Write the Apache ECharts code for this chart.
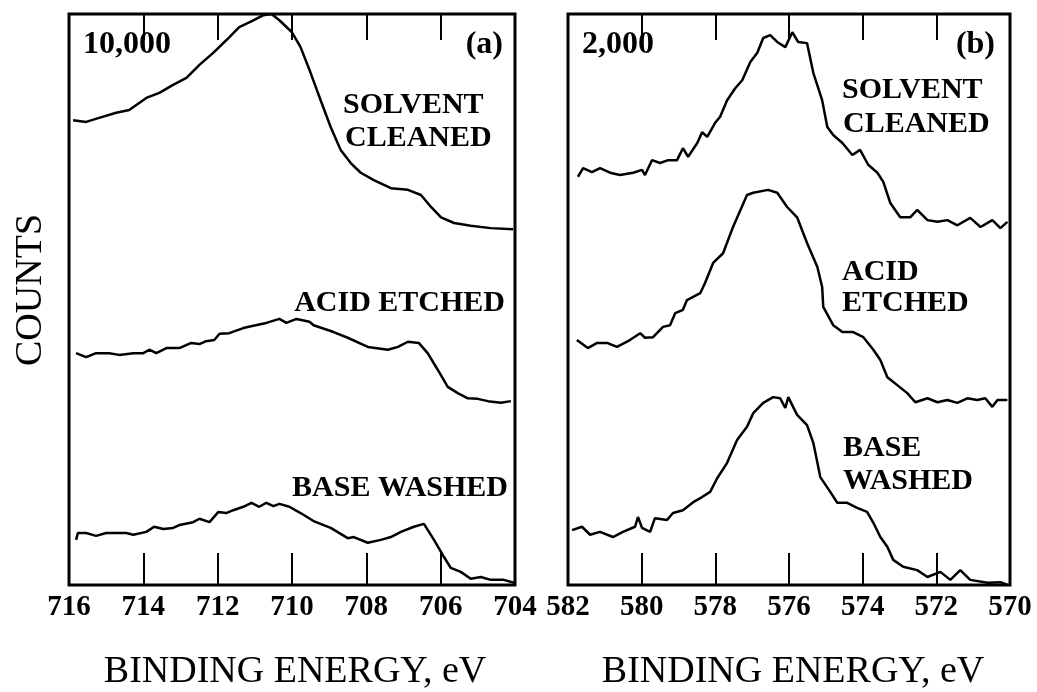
<!DOCTYPE html>
<html>
<head>
<meta charset="utf-8">
<script src="https://cdn.jsdelivr.net/npm/echarts@6/dist/echarts.min.js"></script>
<style>
  html, body { margin: 0; padding: 0; background: #fff; }
  #chart { width: 1037px; height: 692px; }
</style>
</head>
<body>
<div id="chart"></div>
<script>
// --- data: [binding energy eV, counts in % of panel full scale] ---
const feSolvent = [[715.89,81.4],[715.54,81.1],[715.19,81.8],[714.73,82.7],[714.38,83.2],[713.92,85.3],[713.57,86.2],[713.2,87.6],[712.84,88.8],[712.49,91.1],[712.12,93.2],[711.77,95.4],[711.42,97.7],[711.04,98.9],[710.77,99.8],[710.55,100],[710.34,98.9],[710.0,96.8],[709.77,94.2],[709.5,89.7],[709.23,84.9],[708.96,80.2],[708.69,76.2],[708.42,73.9],[708.15,72.2],[707.8,70.9],[707.34,69.5],[706.88,69.2],[706.53,68.3],[706.26,66.2],[705.99,64.4],[705.64,63.4],[705.19,62.9],[704.65,62.5],[704.05,62.3]];
const feAcid = [[715.81,40.6],[715.54,39.9],[715.27,40.6],[714.92,40.6],[714.65,40.3],[714.27,40.6],[714.0,40.6],[713.84,41.2],[713.65,40.6],[713.38,41.5],[713.03,41.5],[712.71,42.4],[712.49,42.2],[712.31,42.7],[712.09,42.9],[711.95,44.0],[711.69,44.1],[711.31,45.0],[711.04,45.4],[710.69,45.9],[710.34,46.6],[710.15,45.9],[709.88,46.6],[709.53,46.1],[709.42,45.5],[708.88,44.3],[708.5,43.3],[707.96,41.7],[707.42,41.2],[707.15,41.7],[706.88,42.6],[706.59,42.4],[706.35,40.6],[706.08,37.7],[705.81,34.7],[705.54,33.6],[705.27,32.7],[705.0,32.6],[704.73,32.2],[704.38,31.9],[704.11,32.2]];
const feBase = [[715.81,7.9],[715.76,9.1],[715.54,9.1],[715.27,8.6],[715.0,9.1],[714.73,9.1],[714.46,9.1],[714.27,8.8],[713.92,9.3],[713.71,10.2],[713.46,9.8],[713.2,10.0],[713.03,10.5],[712.66,11.0],[712.49,11.6],[712.22,11.0],[711.98,12.8],[711.77,12.6],[711.58,13.1],[711.31,13.7],[711.09,14.4],[710.88,13.7],[710.69,14.4],[710.5,13.8],[710.34,14.2],[710.07,13.7],[709.77,12.6],[709.42,11.2],[708.96,10.0],[708.5,8.2],[708.34,8.4],[707.96,7.4],[707.61,7.9],[707.34,8.4],[707.07,9.3],[706.72,10.2],[706.45,10.7],[706.18,7.9],[705.91,4.9],[705.73,3.0],[705.46,2.3],[705.19,1.1],[704.92,1.4],[704.65,0.9],[704.3,0.9],[704.03,0.4]];

const tiSolvent = [[581.73,71.5],[581.59,73.0],[581.35,72.3],[581.13,73.0],[580.86,72.2],[580.59,71.8],[580.23,72.2],[579.99,72.7],[579.91,71.8],[579.72,74.4],[579.5,73.9],[579.28,74.4],[579.04,74.4],[578.88,76.5],[578.74,75.0],[578.49,77.4],[578.36,79.3],[578.22,78.5],[578.01,80.9],[577.87,82.0],[577.68,84.9],[577.46,87.0],[577.27,88.4],[577.05,91.6],[576.86,93.2],[576.7,95.8],[576.51,96.3],[576.32,95.1],[576.1,94.2],[575.91,96.8],[575.75,95.1],[575.51,94.9],[575.34,89.7],[575.1,84.9],[574.96,80.2],[574.8,78.8],[574.55,77.4],[574.28,75.3],[574.07,76.2],[573.85,73.6],[573.6,72.2],[573.44,70.6],[573.25,66.9],[572.98,64.4],[572.71,64.4],[572.52,65.7],[572.24,63.9],[571.97,63.6],[571.7,63.9],[571.43,63.0],[571.08,64.3],[570.8,62.7],[570.48,63.9],[570.26,62.5],[570.07,63.6]];
const tiAcid = [[581.76,42.9],[581.46,41.5],[581.21,42.4],[580.94,42.4],[580.67,41.7],[580.32,42.9],[580.04,44.1],[579.91,43.3],[579.69,43.4],[579.42,45.2],[579.23,45.5],[579.09,47.6],[578.88,48.2],[578.77,49.9],[578.41,51.1],[578.28,52.9],[578.06,56.4],[577.79,58.1],[577.52,62.7],[577.14,68.3],[576.97,68.7],[576.57,69.2],[576.32,68.7],[576.05,66.2],[575.78,64.4],[575.51,59.9],[575.23,55.7],[575.1,52.2],[575.07,48.7],[574.8,45.5],[574.55,44.3],[574.26,44.3],[573.98,43.4],[573.71,41.2],[573.52,39.4],[573.33,36.4],[573.06,35.0],[572.79,33.6],[572.57,32.0],[572.24,32.7],[571.97,32.0],[571.7,32.4],[571.43,31.9],[571.16,32.7],[570.89,32.4],[570.67,32.7],[570.48,31.2],[570.34,32.4],[570.07,32.4]];
const tiBase = [[581.89,9.6],[581.62,10.2],[581.4,8.8],[581.13,9.3],[580.78,8.4],[580.51,9.3],[580.18,10.2],[580.1,11.9],[579.99,10.0],[579.77,9.3],[579.64,11.7],[579.31,11.4],[579.15,12.6],[578.88,13.1],[578.6,14.5],[578.36,15.4],[578.14,16.3],[577.95,18.7],[577.68,21.4],[577.41,25.4],[577.14,27.7],[576.97,30.1],[576.7,31.9],[576.43,32.9],[576.24,32.7],[576.1,31.0],[576.02,32.9],[575.78,29.8],[575.51,28.0],[575.34,24.9],[575.15,18.9],[574.88,16.3],[574.69,14.4],[574.42,14.4],[574.15,13.5],[573.88,12.8],[573.71,10.9],[573.52,8.4],[573.33,6.7],[573.17,4.4],[572.9,3.2],[572.52,2.6],[572.24,1.4],[571.89,2.3],[571.62,0.9],[571.35,2.6],[571.08,0.9],[570.61,0.4],[570.26,0.5],[570.07,0.0]];

// axis ranges
const feRange = [704, 716];
const tiRange = [570, 582];

const SERIF = '"Liberation Serif", "DejaVu Serif", serif';

const chart = echarts.init(document.getElementById('chart'));

function bottomAxis(grid, range) {
  return {
    gridIndex: grid, type: 'value', position: 'bottom',
    min: range[0], max: range[1], interval: 2, inverse: true,
    axisLine: { show: false },
    axisTick: { inside: true, length: 32, lineStyle: { color: '#000', width: 2 } },
    axisLabel: { color: '#000', fontFamily: SERIF, fontSize: 29, fontWeight: 'bold', margin: 8 },
    splitLine: { show: false }
  };
}
function topAxis(grid, range) {
  return {
    gridIndex: grid, type: 'value', position: 'top',
    min: range[0], max: range[1], interval: 2, inverse: true,
    axisLine: { show: false },
    axisTick: { inside: true, length: 26, lineStyle: { color: '#000', width: 2 } },
    axisLabel: { show: false },
    splitLine: { show: false }
  };
}
function yAxis(grid) {
  return {
    gridIndex: grid, type: 'value', min: 0, max: 100,
    axisLine: { show: false }, axisTick: { show: false },
    axisLabel: { show: false }, splitLine: { show: false }
  };
}
function line(data, grid) {
  return {
    type: 'line', data: data, xAxisIndex: grid * 2, yAxisIndex: grid,
    showSymbol: false, symbol: 'none', smooth: false, silent: true,
    lineStyle: { color: '#000', width: 2.5 }
  };
}
function label(text, x, y, size, align, weight) {
  return {
    type: 'text', x: x, y: y, silent: true,
    style: {
      text: text, fill: '#000', fontFamily: SERIF, fontSize: size,
      fontWeight: weight || 'bold', align: align || 'left', verticalAlign: 'middle'
    }
  };
}

const option = {
  animation: false,
  backgroundColor: '#fff',
  grid: [
    { left: 69, top: 14, width: 446, height: 571, show: true, borderColor: '#000', borderWidth: 3, backgroundColor: 'transparent' },
    { left: 568, top: 14, width: 442, height: 571, show: true, borderColor: '#000', borderWidth: 3, backgroundColor: 'transparent' }
  ],
  xAxis: [bottomAxis(0, feRange), topAxis(0, feRange), bottomAxis(1, tiRange), topAxis(1, tiRange)],
  yAxis: [yAxis(0), yAxis(1)],
  series: [
    line(feSolvent, 0), line(feAcid, 0), line(feBase, 0),
    line(tiSolvent, 1), line(tiAcid, 1), line(tiBase, 1)
  ],
  graphic: [
    label('10,000', 83, 45, 32),
    label('(a)', 503, 45, 32, 'right'),
    label('SOLVENT', 343, 105, 30),
    label('CLEANED', 345, 138, 30),
    label('ACID ETCHED', 505, 303, 30, 'right'),
    label('BASE WASHED', 508, 488, 30, 'right'),
    label('2,000', 582, 45, 32),
    label('(b)', 995, 45, 32, 'right'),
    label('SOLVENT', 842, 90, 30),
    label('CLEANED', 843, 124, 30),
    label('ACID', 842, 272, 30),
    label('ETCHED', 842, 303, 30),
    label('BASE', 843, 448, 30),
    label('WASHED', 843, 481, 30),
    label('BINDING ENERGY, eV', 295, 672, 38, 'center', 'normal'),
    label('BINDING ENERGY, eV', 793, 672, 38, 'center', 'normal'),
    {
      type: 'text', x: 31, y: 290, rotation: Math.PI / 2, silent: true,
      style: { text: 'COUNTS', fill: '#000', fontFamily: SERIF, fontSize: 38,
        fontWeight: 'normal', align: 'center', verticalAlign: 'middle' }
    }
  ]
};

chart.setOption(option);
window.addEventListener('resize', () => chart.resize());
</script>
</body>
</html>
